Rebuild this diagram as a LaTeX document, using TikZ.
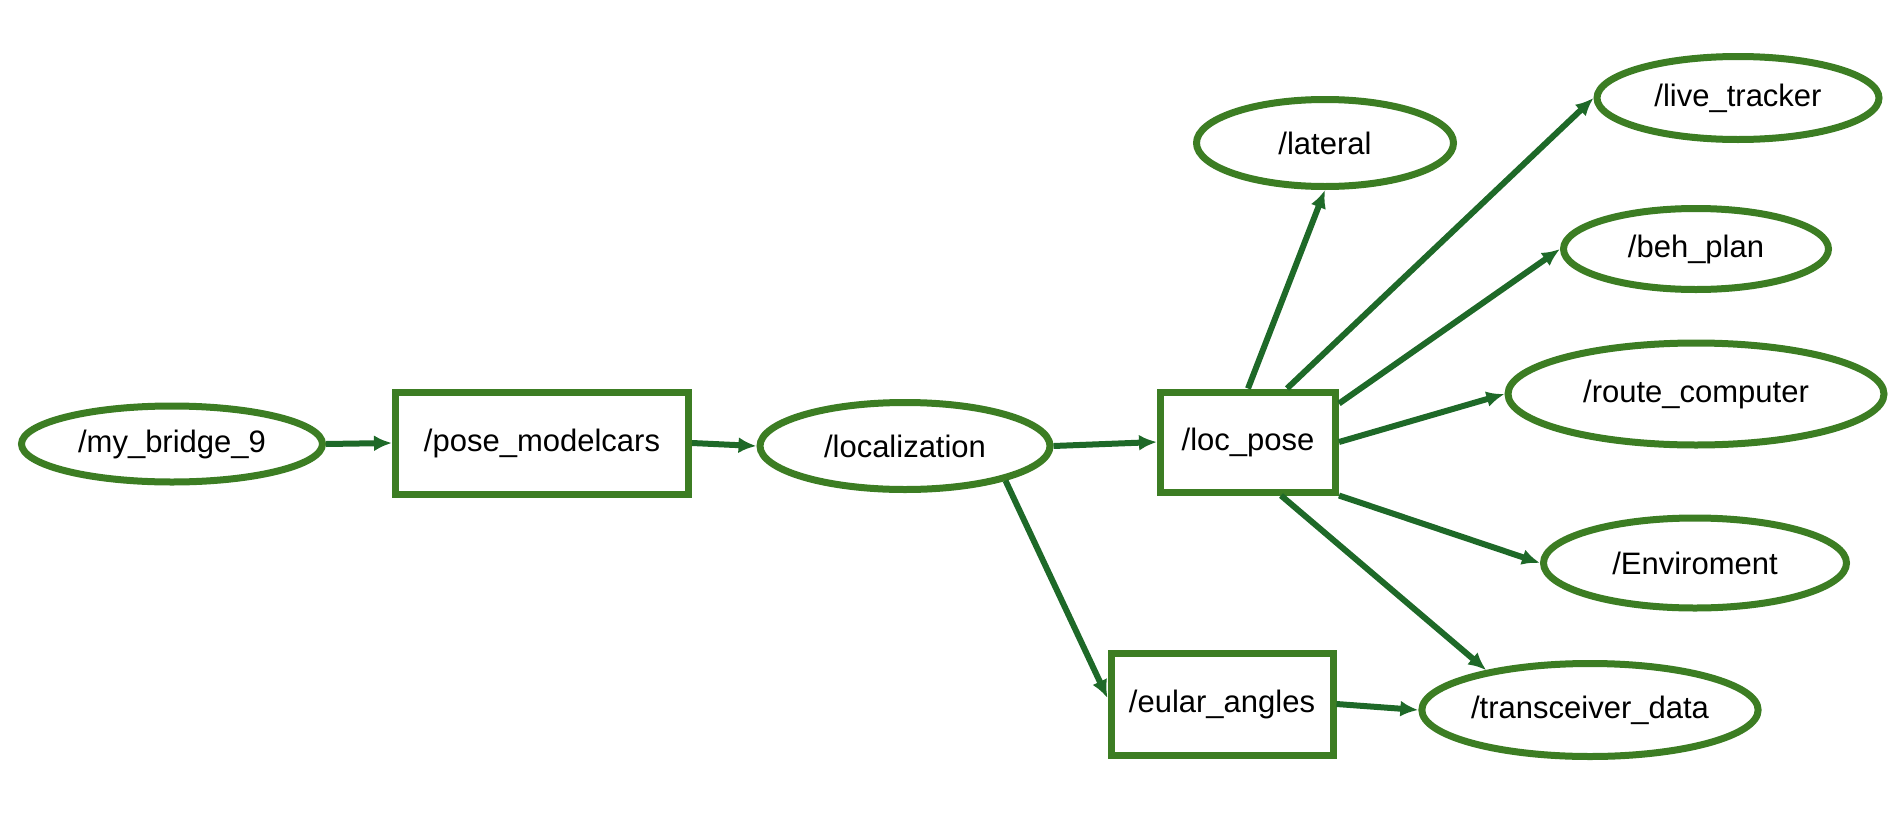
\documentclass[tikz,border=0pt]{standalone}
\usepackage{fontspec}
\setmainfont{Liberation Sans}
\usetikzlibrary{arrows.meta,positioning,shapes.geometric}
\definecolor{nodegreen}{RGB}{60,125,35}
\definecolor{edgegreen}{RGB}{30,105,40}

\begin{document}
\begin{tikzpicture}[x=1pt,y=-1pt,
  topic/.style={ellipse,draw=nodegreen,line width=7pt,fill=white,inner sep=0pt,font=\fontsize{31}{36}\selectfont},
  proc/.style={rectangle,draw=nodegreen,line width=7pt,fill=white,inner sep=0pt,font=\fontsize{31}{36}\selectfont},
  flow/.style={-{Latex[length=18pt,width=16pt]},line width=6pt,edgegreen}]
\useasboundingbox (0,0) rectangle (1904,838);
\node[topic,minimum width=301pt,minimum height=76pt] (bridge) at (172,444) {/my\_bridge\_9};
\node[proc,minimum width=293pt,minimum height=102pt] (pose) at (542,443) {/pose\_modelcars};
\node[topic,minimum width=290pt,minimum height=87pt] (locz) at (905,446) {/localization};
\node[proc,minimum width=175pt,minimum height=100pt] (loc) at (1248,442) {/loc\_pose};
\node[topic,minimum width=257pt,minimum height=87pt] (lat) at (1325,143) {/lateral};
\node[topic,minimum width=282pt,minimum height=83pt] (live) at (1738,98) {/live\_tracker};
\node[topic,minimum width=265pt,minimum height=81pt] (beh) at (1696,249) {/beh\_plan};
\node[topic,minimum width=376pt,minimum height=102pt] (route) at (1696,394) {/route\_computer};
\node[topic,minimum width=303pt,minimum height=90pt] (env) at (1695,563) {/Enviroment};
\node[topic,minimum width=313pt,minimum height=93pt] (trans) at (1590,710) {/transceiver\_data};
\node[proc,minimum width=222pt,minimum height=102pt] (eular) at (1222,704) {/eular\_angles};
\foreach \from/\to in {bridge.east/pose.west,pose.east/locz.west,locz.east/loc.west,loc.north/lat.south,loc.east/route.west,loc.south east/env.west,eular.east/trans.west}
  \draw[flow] (\from)--(\to);
\draw[flow] ([xshift=39pt]loc.north)--(live.west);
\draw[flow] ([yshift=-15pt]loc.north east)--(beh.west);
\draw[flow] ([xshift=33pt]loc.south)--(trans.159);
\draw[flow] (locz.-19)--([yshift=6pt]eular.west);
\end{tikzpicture}
\end{document}
